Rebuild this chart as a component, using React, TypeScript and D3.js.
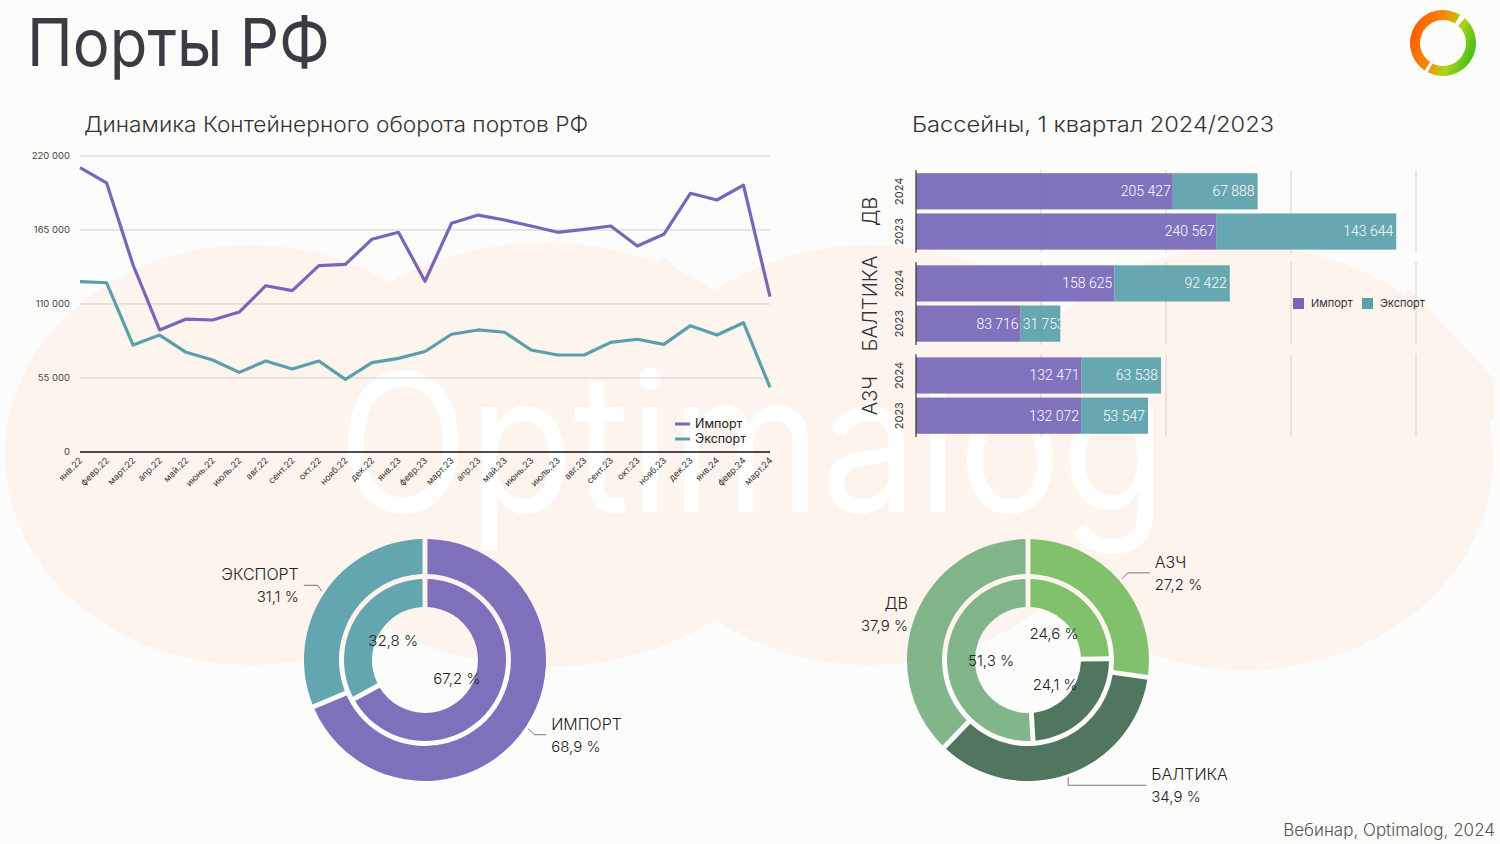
import * as d3 from "d3";

// monthly container turnover, TEU
const months = [
  "янв.22", "февр.22", "март.22", "апр.22", "май.22", "июнь.22", "июль.22", "авг.22", "сент.22",
  "окт.22", "нояб.22", "дек.22", "янв.23", "февр.23", "март.23", "апр.23", "май.23", "июнь.23",
  "июль.23", "авг.23", "сент.23", "окт.23", "нояб.23", "дек.23", "янв.24", "февр.24", "март.24",
];
const importTeu = [
  211300, 200100, 139000, 90700, 98800, 98100, 104000, 123600, 119900, 138500, 139500, 158100,
  163300, 126900, 170000, 176100, 172400, 168000, 163300, 165500, 168000, 153100, 161800, 192300,
  187300, 198400, 115400,
];
const exportTeu = [
  126600, 125800, 79500, 86900, 74100, 68400, 59200, 67600, 61700, 67600, 54000, 66400,
  69600, 74700, 87500, 90700, 89000, 75800, 72100, 72100, 81500, 83800, 80000, 93900,
  87000, 96100, 48100,
];
const lineTicks = [0, 55000, 110000, 165000, 220000];

// basins, Q1
const basins = ["ДВ", "БАЛТИКА", "АЗЧ"];
const years = ["2024", "2023"];
const import2024 = [205427, 158625, 132471];
const export2024 = [67888, 92422, 63538];
const import2023 = [240567, 83716, 132072];
const export2023 = [143644, 31753, 53547];
const barTicks = [0, 100000, 200000, 300000, 400000];

// shares, %
const flowNames = ["ИМПОРТ", "ЭКСПОРТ"];
const flowOuter = [68.9, 31.1];
const flowInner = [67.2, 32.8];
const basinNames = ["АЗЧ", "БАЛТИКА", "ДВ"];
const basinOuter = [27.2, 34.9, 37.9];
const basinInner = [24.6, 24.1, 51.3];

const PURPLE = "#7767b8";
const TEAL = "#5aa0ab";
const PEACH = "#fdf4ee";
const GREENS = ["#79bd63", "#466d55", "#79b083"];
const FONT = "Inter, Roboto, sans-serif";

const thousands = (v: number) => d3.format(",")(v).replace(/,/g, " ");
const pct = (v: number) => `${v.toFixed(1).replace(".", ",")} %`;

const LineChart = () => {
  const x = d3.scalePoint().domain(months).range([80, 770]);
  const y = d3.scaleLinear().domain([0, 220000]).range([452, 156]);
  const line = d3
    .line<number>()
    .x((_, i) => x(months[i]) as number)
    .y((d) => y(d));

  return (
    <g>
      <text x={84} y={132} fontSize={22} fontWeight={300} fill="#333" textLength={504} lengthAdjust="spacingAndGlyphs">
        Динамика Контейнерного оборота портов РФ
      </text>
      {lineTicks.map((t) => (
        <g key={t}>
          <line x1={80} x2={770} y1={y(t)} y2={y(t)} stroke={t === 0 ? "#111" : "#cfcfcf"} strokeWidth={t === 0 ? 1.3 : 1} />
          <text x={70} y={y(t)} dy="0.35em" textAnchor="end" fontSize={9.5} fill="#444">
            {thousands(t)}
          </text>
        </g>
      ))}
      {months.map((m) => (
        <text
          key={m}
          transform={`translate(${(x(m) as number) + 3},${461}) rotate(-45)`}
          textAnchor="end"
          fontSize={9}
          fill="#333"
        >
          {m}
        </text>
      ))}
      <path d={line(importTeu) ?? ""} fill="none" stroke={PURPLE} strokeWidth={3.2} strokeLinejoin="round" />
      <path d={line(exportTeu) ?? ""} fill="none" stroke={TEAL} strokeWidth={3.2} strokeLinejoin="round" />
      {[
        { name: "Импорт", color: PURPLE },
        { name: "Экспорт", color: TEAL },
      ].map((s, i) => (
        <g key={s.name} transform={`translate(675,${424 + i * 15})`}>
          <line x1={0} x2={15} stroke={s.color} strokeWidth={3} />
          <text x={20} dy="0.35em" fontSize={12.5} fill="#222">
            {s.name}
          </text>
        </g>
      ))}
    </g>
  );
};

const BarChart = () => {
  const x = d3.scaleLinear().domain([0, 400000]).range([916, 1416]);
  const g = d3.scaleBand().domain(basins).range([170, 437]).paddingInner(0.1);
  const yr = d3.scaleBand().domain(years).range([0, g.bandwidth()]).paddingInner(0.1).paddingOuter(0.08);
  const rows = basins.flatMap((b, i) => [
    { basin: b, year: "2024", imp: import2024[i], exp: export2024[i] },
    { basin: b, year: "2023", imp: import2023[i], exp: export2023[i] },
  ]);

  return (
    <g>
      <text x={912} y={132} fontSize={22} fontWeight={300} fill="#333" textLength={362} lengthAdjust="spacingAndGlyphs">
        Бассейны, 1 квартал 2024/2023
      </text>
      <defs>
        {rows.map((r, i) => (
          <clipPath id={`seg${i}`} key={i}>
            <rect
              x={x(r.imp)}
              y={(g(r.basin) as number) + (yr(r.year) as number)}
              width={x(r.imp + r.exp) - x(r.imp)}
              height={yr.bandwidth()}
            />
          </clipPath>
        ))}
      </defs>
      {basins.map((b) => {
        const top = g(b) as number;
        return (
          <g key={b}>
            {barTicks.slice(1).map((t) => (
              <line key={t} x1={x(t)} x2={x(t)} y1={top} y2={top + g.bandwidth()} stroke="#d4d4d4" />
            ))}
            <text
              transform={`translate(877,${top + g.bandwidth() / 2}) rotate(-90)`}
              textAnchor="middle"
              fontSize={20}
              fontWeight={300}
              fill="#333"
            >
              {b}
            </text>
            {years.map((yv) => (
              <text
                key={yv}
                transform={`translate(903,${top + (yr(yv) as number) + yr.bandwidth() / 2}) rotate(-90)`}
                textAnchor="middle"
                fontSize={11}
                fill="#333"
              >
                {yv}
              </text>
            ))}
          </g>
        );
      })}
      {rows.map((r, i) => {
        const y0 = (g(r.basin) as number) + (yr(r.year) as number);
        const h = yr.bandwidth();
        const segW = x(r.imp + r.exp) - x(r.imp);
        const fits = segW > 46;
        return (
          <g key={i}>
            <rect x={x(0)} y={y0} width={x(r.imp) - x(0)} height={h} fill={PURPLE} fillOpacity={0.93} />
            <rect x={x(r.imp)} y={y0} width={segW} height={h} fill={TEAL} fillOpacity={0.93} />
            <text
              x={x(r.imp) - 2}
              y={y0 + h / 2}
              dy="0.35em"
              textAnchor="end"
              fontSize={14}
              fontFamily="Roboto, sans-serif"
              fontWeight={300}
              fill="#fff"
            >
              {thousands(r.imp)}
            </text>
            <text
              x={fits ? x(r.imp + r.exp) - 3 : x(r.imp) + 2}
              y={y0 + h / 2}
              dy="0.35em"
              textAnchor={fits ? "end" : "start"}
              fontSize={14}
              fontFamily="Roboto, sans-serif"
              fontWeight={300}
              fill="#fff"
              clipPath={fits ? undefined : `url(#seg${i})`}
            >
              {thousands(r.exp)}
            </text>
          </g>
        );
      })}
      {basins.map((b) => (
        <line key={b} x1={x(0)} x2={x(0)} y1={g(b) as number} y2={(g(b) as number) + g.bandwidth()} stroke="#333" strokeWidth={1.2} />
      ))}
      {[
        { name: "Импорт", color: PURPLE },
        { name: "Экспорт", color: TEAL },
      ].map((s, i) => (
        <g key={s.name} transform={`translate(${1293 + i * 69},298)`}>
          <rect width={11} height={11} fill={s.color} />
          <text x={18} y={5.5} dy="0.35em" fontSize={11} fill="#333">
            {s.name}
          </text>
        </g>
      ))}
    </g>
  );
};

type Callout = { dx: number; dy: number; len: number; side: 1 | -1; leader: boolean };

const Donut = ({
  cx,
  cy,
  names,
  outer,
  inner,
  colors,
  callouts,
}: {
  cx: number;
  cy: number;
  names: string[];
  outer: number[];
  inner: number[];
  colors: string[];
  callouts: Callout[];
}) => {
  const pie = d3.pie<number>().sort(null).startAngle(0).endAngle(2 * Math.PI).padAngle(0.035);
  const outerArc = d3.arc<d3.PieArcDatum<number>>().innerRadius(86).outerRadius(121).padRadius(140);
  const innerArc = d3.arc<d3.PieArcDatum<number>>().innerRadius(53).outerRadius(81).padRadius(140);
  const innerLabel = d3.arc<d3.PieArcDatum<number>>().innerRadius(37).outerRadius(37);
  const edge = d3.arc<d3.PieArcDatum<number>>().innerRadius(124).outerRadius(124);
  const outerSlices = pie(outer);
  const innerSlices = pie(inner);

  return (
    <g transform={`translate(${cx},${cy})`}>
      {outerSlices.map((s, i) => (
        <path key={i} d={outerArc(s) ?? ""} fill={colors[i]} fillOpacity={0.94} />
      ))}
      {innerSlices.map((s, i) => (
        <path key={i} d={innerArc(s) ?? ""} fill={colors[i]} fillOpacity={0.94} />
      ))}
      {innerSlices.map((s, i) => {
        const [lx, ly] = innerLabel.centroid(s);
        return (
          <text key={i} x={lx} y={ly} dy="0.35em" textAnchor="middle" fontSize={15} fontWeight={300} fill="#222">
            {pct(inner[i])}
          </text>
        );
      })}
      {outerSlices.map((s, i) => {
        const c = callouts[i];
        const [ex, ey] = edge.centroid(s);
        const bx = ex + c.dx;
        const by = ey + c.dy;
        const tx = bx + c.side * c.len;
        const anchor = c.side > 0 ? "start" : "end";
        const lx = tx + c.side * 5;
        return (
          <g key={i}>
            {c.leader && <polyline points={`${ex},${ey} ${bx},${by} ${tx},${by}`} fill="none" stroke="#555" strokeWidth={0.8} />}
            <text x={lx} y={by - 5} textAnchor={anchor} fontSize={16} fontWeight={300} fill="#222">
              {names[i]}
            </text>
            <text x={lx} y={by + 17} textAnchor={anchor} fontSize={15} fontWeight={300} fill="#222">
              {pct(outer[i])}
            </text>
          </g>
        );
      })}
    </g>
  );
};

// faint brand shapes behind the charts
const Background = () => (
  <g>
    <rect width={1500} height={844} fill="#fcfcfb" />
    <g fill={PEACH}>
      <ellipse cx={250} cy={455} rx={245} ry={210} />
      <ellipse cx={545} cy={455} rx={270} ry={212} />
      <ellipse cx={870} cy={455} rx={250} ry={210} />
      <ellipse cx={1245} cy={458} rx={248} ry={212} />
      <path d={d3.line()([[545, 360], [665, 258], [785, 360]]) ?? ""} />
      <path d={d3.line()([[1300, 400], [1410, 289], [1495, 380], [1495, 420]]) ?? ""} />
    </g>
    <text
      x={338}
      y={512}
      fontSize={192}
      fontFamily="Inter, sans-serif"
      fontWeight={400}
      fill="#fff"
      textLength={828}
      lengthAdjust="spacingAndGlyphs"
    >
      Optimalog
    </text>
  </g>
);

const Logo = () => {
  const ring = d3.arc();
  return (
    <g transform="translate(1443,43)">
      <defs>
        <linearGradient id="logoGrad" gradientUnits="userSpaceOnUse" x1={-33} y1={-12} x2={33} y2={12}>
          <stop offset="0" stopColor="#ff5a00" />
          <stop offset="0.4" stopColor="#f58a0a" />
          <stop offset="0.65" stopColor="#b2d418" />
          <stop offset="1" stopColor="#36bd1c" />
        </linearGradient>
      </defs>
      <path d={ring({ startAngle: -2.55, endAngle: 0.55, innerRadius: 23, outerRadius: 33 }) ?? ""} fill="url(#logoGrad)" />
      <path d={ring({ startAngle: 0.72, endAngle: 3.62, innerRadius: 23, outerRadius: 33 }) ?? ""} fill="url(#logoGrad)" />
    </g>
  );
};

export default function App() {
  return (
    <div style={{ position: "absolute", left: 0, top: 0 }}>
      <svg width={1500} height={844} fontFamily={FONT} style={{ display: "block" }}>
        <Background />
        <text x={27} y={66} fontSize={66} fontWeight={400} fill="#3b3b44" textLength={303} lengthAdjust="spacingAndGlyphs">
          Порты РФ
        </text>
        <Logo />
        <LineChart />
        <BarChart />
        <Donut
          cx={425}
          cy={660}
          names={flowNames}
          outer={flowOuter}
          inner={flowInner}
          colors={[PURPLE, TEAL]}
          callouts={[
            { dx: 6, dy: 6, len: 12, side: 1, leader: true },
            { dx: -4, dy: -6, len: 14, side: -1, leader: true },
          ]}
        />
        <Donut
          cx={1028}
          cy={660}
          names={basinNames}
          outer={basinOuter}
          inner={basinInner}
          colors={GREENS}
          callouts={[
            { dx: 6, dy: -6, len: 22, side: 1, leader: true },
            { dx: 0, dy: 8, len: 78, side: 1, leader: true },
            { dx: 0, dy: 0, len: 0, side: -1, leader: false },
          ]}
        />
        <text x={1495} y={836} textAnchor="end" fontSize={17} fontWeight={300} fill="#555">
          Вебинар, Optimalog, 2024
        </text>
      </svg>
    </div>
  );
}
